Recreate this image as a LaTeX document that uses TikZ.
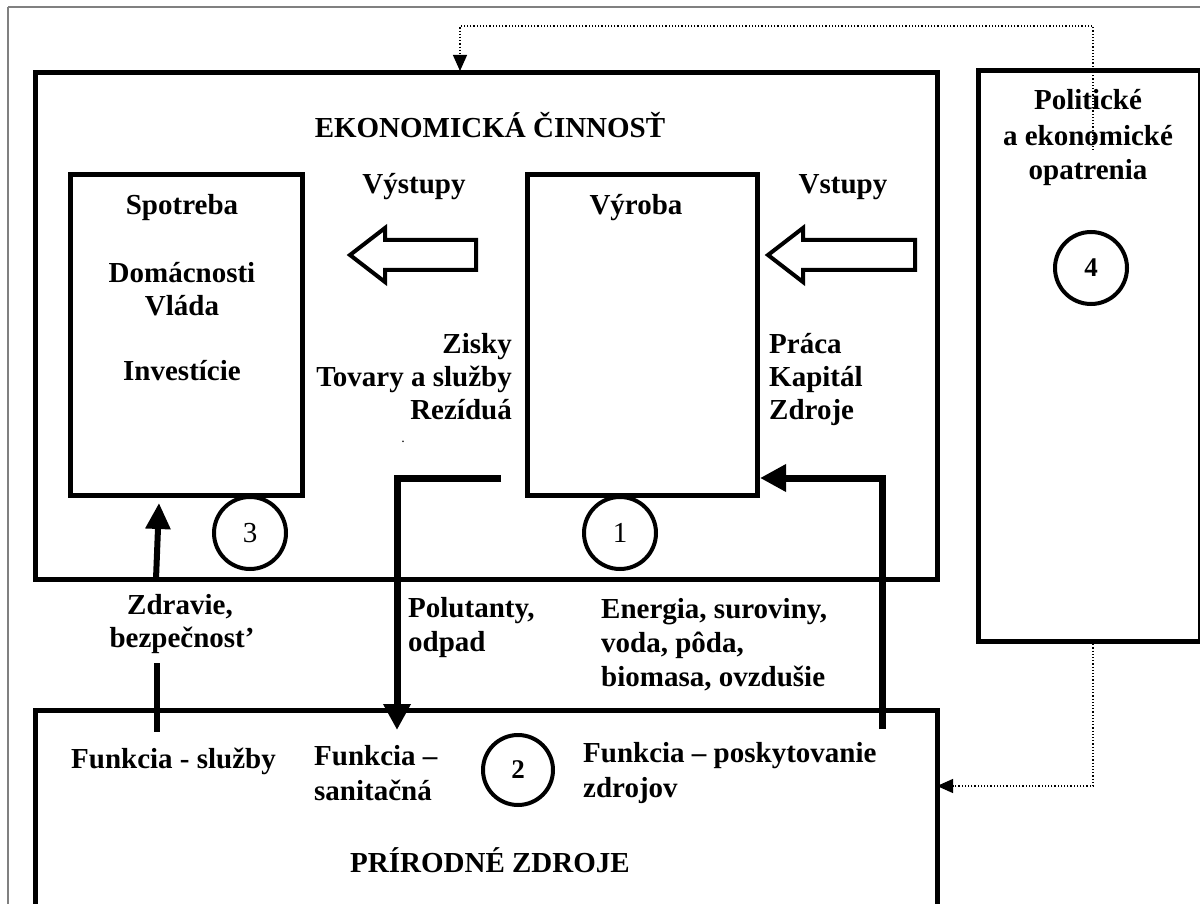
\documentclass[tikz,border=0pt]{standalone}
\usepackage{fontspec}
\setmainfont{Liberation Serif}
\usetikzlibrary{arrows.meta}
\begin{document}
\begin{tikzpicture}[x=1pt,y=-1pt,
  box/.style={draw,line width=5pt,anchor=north west,inner sep=0pt,outer sep=0pt},
  txt/.style={font=\fontsize{29}{33}\selectfont\bfseries,inner sep=0pt,anchor=base},
  txtl/.style={txt,anchor=base west},
  txtr/.style={txt,anchor=base east},
  num/.style={draw,circle,line width=4pt,minimum size=72pt,inner sep=0pt,font=\fontsize{29}{29}\selectfont},
  flow/.style={line width=7pt},
  hollow/.style={draw,line width=4pt,fill=white,line join=miter},
  dotline/.style={dotted,line width=1.2pt},
  bighead/.style={-{Triangle[length=26pt,width=26pt]}},
  smallhead/.style={-{Triangle[length=16pt,width=14pt]}}]
\clip (0,0) rectangle (1200,904);
% outer frame
\draw[gray,line width=2pt] (8,7) -- (1210,7);
\draw[gray,line width=2pt] (8,7) -- (8,920);
% boxes
\node[box,minimum width=902pt,minimum height=506pt] (econ) at (35,73) {};
\node[box,minimum width=222pt,minimum height=570pt] (policy) at (978,71) {};
\node[box,minimum width=902pt,minimum height=230pt] (nature) at (35,710) {};
\node[box,minimum width=232pt,minimum height=320pt] (spot) at (70,175) {};
\node[box,minimum width=230pt,minimum height=320pt] (vyr) at (527,175) {};
% circles
\node[num] (c3) at (250,533) {3};
\node[num] (c1) at (620,533) {1};
\node[num,font=\fontsize{27}{27}\selectfont\bfseries,minimum size=70pt] (c2) at (518,770) {2};
\node[num,font=\fontsize{27}{27}\selectfont\bfseries,minimum size=72pt] (c4) at (1091,268) {4};
% texts
\node[txt] (t-ek) at (490,138) {EKONOMICKÁ ČINNOSŤ};
\node[txt] (t-vys) at (414,194) {Výstupy};
\node[txt] (t-vst) at (843,194) {Vstupy};
\node[txt] (t-spot) at (182,215) {Spotreba};
\node[txt] (t-dom) at (182,283) {Domácnosti};
\node[txt] (t-vla) at (182,316) {Vláda};
\node[txt] (t-inv) at (182,380) {Investície};
\node[txt] (t-vyr) at (636,215) {Výroba};
\node[txtr] (t-zis) at (512,353) {Zisky};
\node[txtr] (t-tov) at (512,386) {Tovary a služby};
\node[txtr] (t-rez) at (512,419) {Rezíduá};
\node[inner sep=0pt,font=\fontsize{14}{14}\selectfont,anchor=base] (t-dot) at (403,442) {.};
\node[txtl] (t-pra) at (769,353) {Práca};
\node[txtl] (t-kap) at (769,386) {Kapitál};
\node[txtl] (t-zdr) at (769,419) {Zdroje};
\node[txt] (t-zdrav) at (180,614) {Zdravie,};
\node[txt] (t-bez) at (182,647) {bezpečnost’};
\node[txtl] (t-pol) at (408,617) {Polutanty,};
\node[txtl] (t-odp) at (408,651) {odpad};
\node[txtl] (t-ene) at (601,618) {Energia, suroviny,};
\node[txtl] (t-vod) at (601,652) {voda, pôda,};
\node[txtl] (t-bio) at (601,686) {biomasa, ovzdušie};
\node[txtl] (t-fs) at (71,768) {Funkcia - služby};
\node[txtl] (t-fsan) at (314,765) {Funkcia –};
\node[txtl] (t-san) at (314,800) {sanitačná};
\node[txtl] (t-fpos) at (583,762) {Funkcia – poskytovanie};
\node[txtl] (t-zdj) at (583,797) {zdrojov};
\node[txt] (t-pz) at (490,872) {PRÍRODNÉ ZDROJE};
\node[txt] (t-pol1) at (1088,110) {Politické};
\node[txt] (t-pol2) at (1088,146) {a ekonomické};
\node[txt] (t-pol3) at (1088,180) {opatrenia};
% hollow arrows
\draw[hollow] (350,255) -- (385,228) -- (385,240) -- (476,240) -- (476,270) -- (385,270) -- (385,282) -- cycle;
\draw[hollow] (768,255) -- (803,228) -- (803,240) -- (915,240) -- (915,270) -- (803,270) -- (803,282) -- cycle;
% flows
\coordinate (pstart) at (501,478);
\coordinate (pend) at (397,730);
\draw[flow,bighead] (pstart) -- (397,478) -- (pend);
\coordinate (estart) at (882,729);
\coordinate (eend) at (760,478);
\draw[flow,bighead] (estart) -- (882,478) -- (eend);
\coordinate (zstart) at (156,579);
\coordinate (zend) at (159,503);
\draw[line width=6pt,-{Triangle[length=26pt,width=24pt]}] (zstart) -- (zend);
\coordinate (zlo1) at (157,663);
\coordinate (zlo2) at (157,732);
\draw[line width=6pt] (zlo1) -- (zlo2);
% dotted feedback
\coordinate (dtop) at (1093,150);
\draw[dotline,smallhead] (dtop) -- (1093,26) -- (460,26) -- ([yshift=2pt]econ.north west -| 460,0);
\draw[dotline,smallhead] (policy.south -| 1093,0) -- (1093,786) -- (nature.east |- 0,786);
\end{tikzpicture}
\end{document}
